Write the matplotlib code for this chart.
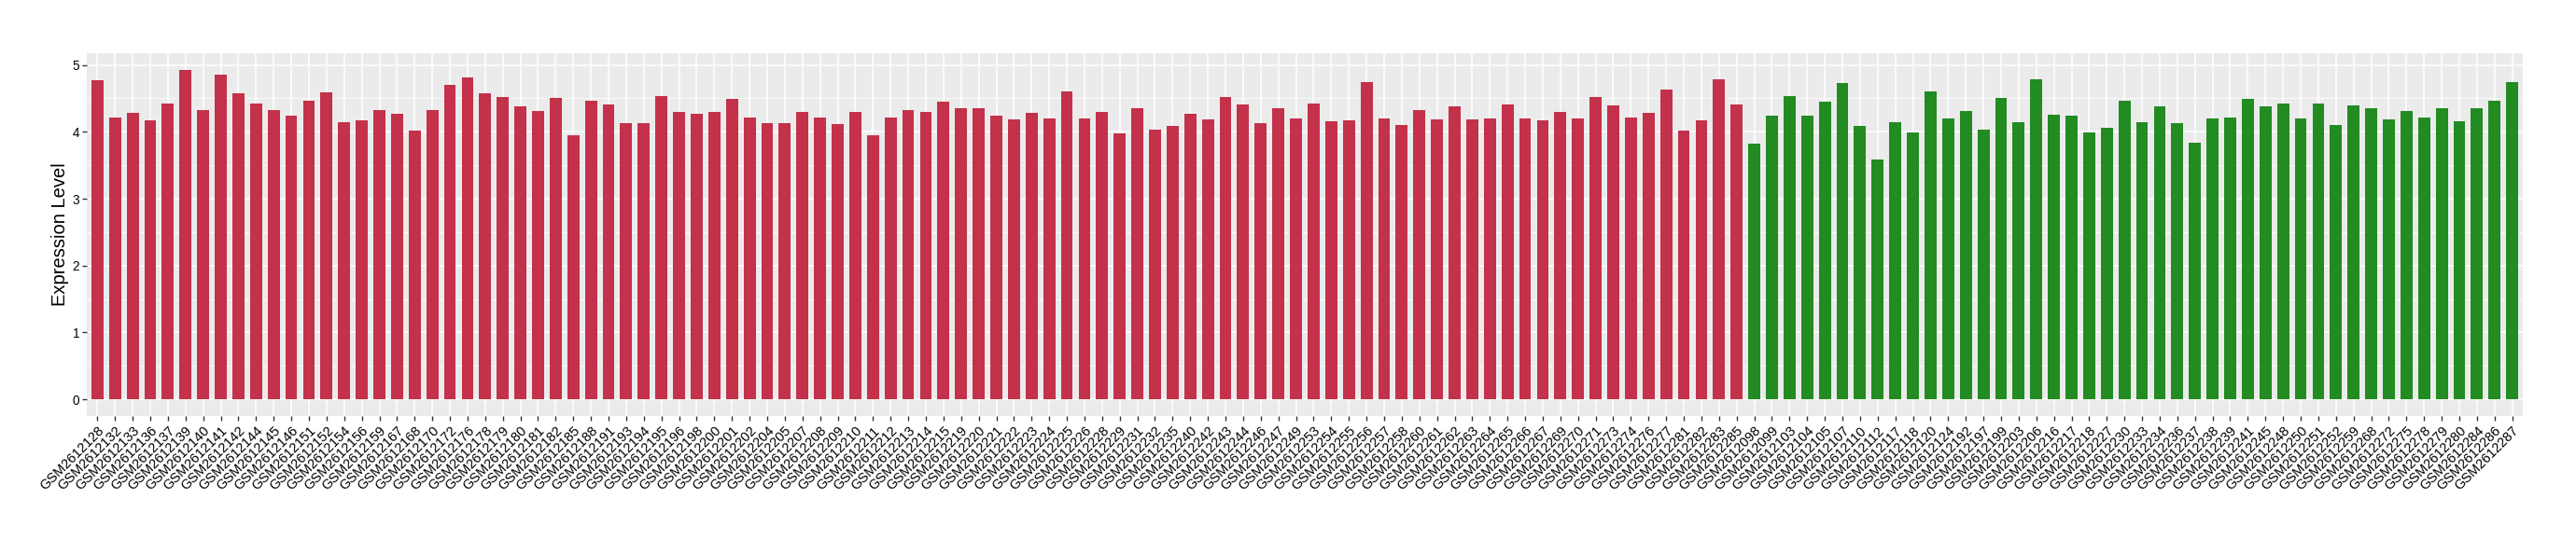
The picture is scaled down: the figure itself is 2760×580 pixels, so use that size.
import matplotlib
matplotlib.use("Agg")
import matplotlib.pyplot as plt
import numpy as np

plt.rcParams['font.family'] = ['Liberation Sans', 'DejaVu Sans']

red_ids = [128, 132, 133, 136, 137, 139, 140, 141, 142, 144,
           145, 146, 151, 152, 154, 156, 159, 167, 168, 170,
           172, 176, 178, 179, 180, 181, 182, 185, 188, 191,
           193, 194, 195, 196, 198, 200, 201, 202, 204, 205,
           207, 208, 209, 210, 211, 212, 213, 214, 215, 219,
           220, 221, 222, 223, 224, 225, 226, 228, 229, 231,
           232, 235, 240, 242, 243, 244, 246, 247, 249, 253,
           254, 255, 256, 257, 258, 260, 261, 262, 263, 264,
           265, 266, 267, 269, 270, 271, 273, 274, 276, 277,
           281, 282, 283, 285]
red_values = [4.77, 4.21, 4.28, 4.17, 4.43, 4.93, 4.33, 4.85, 4.57, 4.43,
              4.33, 4.24, 4.47, 4.59, 4.14, 4.17, 4.32, 4.27, 4.02, 4.32,
              4.70, 4.82, 4.57, 4.52, 4.38, 4.31, 4.50, 3.95, 4.47, 4.41,
              4.13, 4.13, 4.53, 4.30, 4.27, 4.30, 4.49, 4.22, 4.13, 4.13,
              4.30, 4.21, 4.11, 4.30, 3.95, 4.21, 4.33, 4.30, 4.45, 4.35,
              4.36, 4.24, 4.18, 4.28, 4.20, 4.60, 4.20, 4.30, 3.98, 4.35,
              4.03, 4.09, 4.27, 4.18, 4.52, 4.41, 4.13, 4.36, 4.20, 4.43,
              4.16, 4.17, 4.74, 4.20, 4.10, 4.32, 4.18, 4.38, 4.18, 4.20,
              4.41, 4.20, 4.17, 4.30, 4.20, 4.52, 4.39, 4.22, 4.28, 4.63,
              4.02, 4.17, 4.78, 4.41]

green_ids = [98, 99, 103, 104, 105, 107, 110, 112, 117, 118,
             120, 124, 192, 197, 199, 203, 206, 216, 217, 218,
             227, 230, 233, 234, 236, 237, 238, 239, 241, 245,
             248, 250, 251, 252, 259, 268, 272, 275, 278, 279,
             280, 284, 286, 287]
green_values = [3.82, 4.24, 4.54, 4.24, 4.45, 4.73, 4.09, 3.59, 4.14, 3.99,
                4.60, 4.20, 4.31, 4.03, 4.50, 4.14, 4.78, 4.25, 4.24, 3.99,
                4.06, 4.46, 4.14, 4.38, 4.13, 3.84, 4.20, 4.22, 4.49, 4.38,
                4.43, 4.20, 4.43, 4.10, 4.39, 4.36, 4.18, 4.31, 4.21, 4.36,
                4.16, 4.35, 4.46, 4.74]

red_labels = ["GSM2612%03d" % i for i in red_ids]
green_labels = ["GSM2612%03d" % i for i in green_ids]
labels = red_labels + green_labels
values = red_values + green_values
colors = ["#C3314A"] * len(red_values) + ["#228B22"] * len(green_values)

W, H = 2760, 580
fig = plt.figure(figsize=(W / 100, H / 100), dpi=100)
left, right, top, bottom = 93, 2703, 57, 445.7
ax = fig.add_axes([left / W, (H - bottom) / H, (right - left) / W, (bottom - top) / H])
ax.set_facecolor("#EBEBEB")

x = np.arange(len(values))
ax.bar(x, values, width=0.68, color=colors, zorder=3)

n = len(values)
ax.set_xlim(-0.6, n - 1 + 0.6)
ymax = max(values)
ax.set_ylim(-0.05 * ymax, ymax * 1.05)

ax.set_yticks([0, 1, 2, 3, 4, 5])
ax.set_yticks([0.5, 1.5, 2.5, 3.5, 4.5], minor=True)
ax.set_xticks(x)
ax.set_xticklabels(labels, rotation=45, ha="right", va="top",
                   rotation_mode="anchor", fontsize=10.5, color="black")
ax.tick_params(axis="y", labelsize=9.8, labelcolor="black", pad=2)
ax.tick_params(axis="x", pad=3)
ax.tick_params(which="major", length=3.5, width=1, color="#333333")
ax.tick_params(which="minor", length=0)

ax.grid(which="major", color="white", linewidth=1.1, zorder=0)
ax.grid(which="minor", axis="y", color="white", linewidth=0.55, zorder=0)
ax.set_axisbelow(True)
for s in ax.spines.values():
    s.set_visible(False)

ax.set_ylabel("Expression Level", fontsize=14.5, va="center")
ax.yaxis.set_label_coords((65 - left) / (right - left), 0.5)

fig.savefig("out.png", dpi=100)
